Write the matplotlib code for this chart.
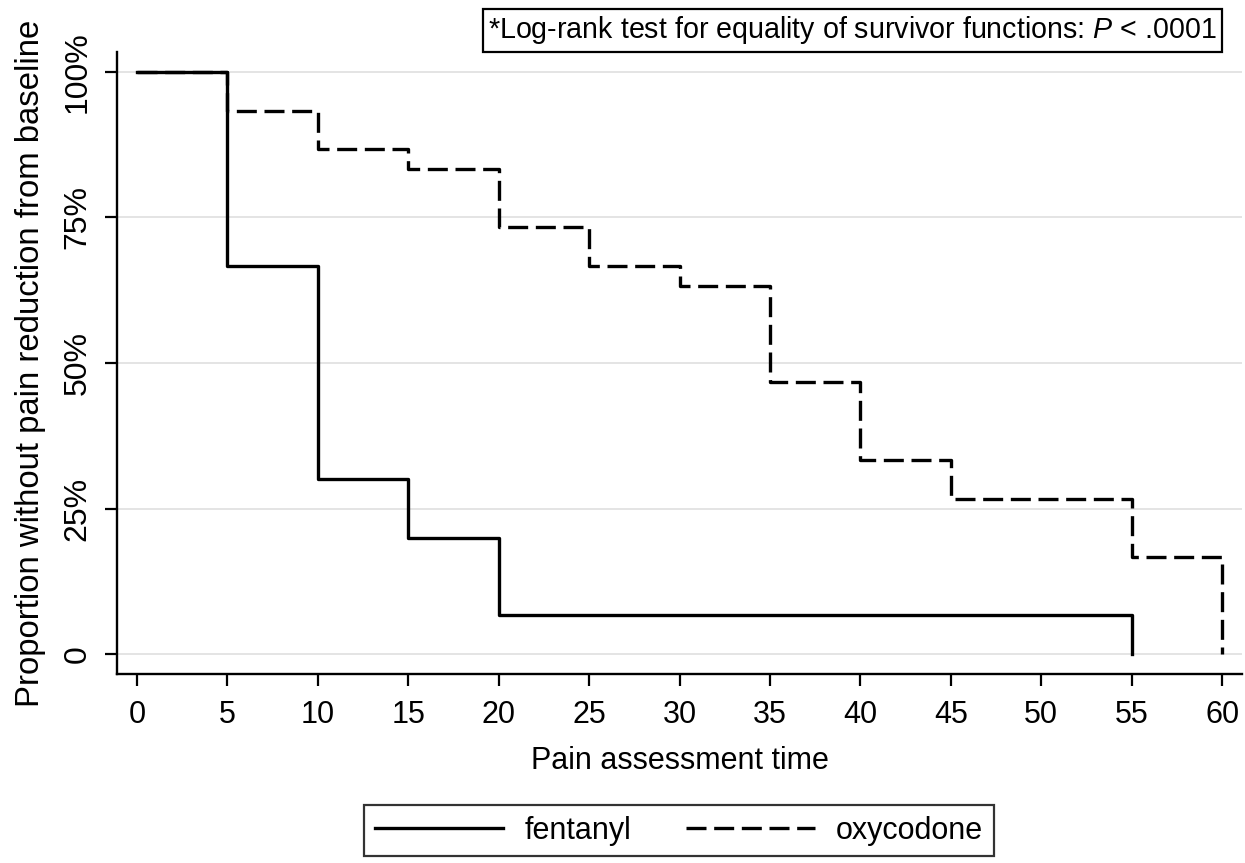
import matplotlib
matplotlib.use('Agg')
import matplotlib.pyplot as plt

plt.rcParams['font.family'] = ['Liberation Sans', 'DejaVu Sans']
plt.rcParams['mathtext.fontset'] = 'custom'
plt.rcParams['mathtext.rm'] = 'Liberation Sans'
plt.rcParams['mathtext.it'] = 'Liberation Sans:italic'

# Kaplan-Meier style step data (proportion without pain reduction)
fentanyl_times = [0, 5, 10, 15, 20, 55]
fentanyl_surv = [1.0, 0.667, 0.30, 0.20, 0.067, 0.0]

oxycodone_times = [0, 5, 10, 15, 20, 25, 30, 35, 40, 45, 55, 60]
oxycodone_surv = [1.0, 0.933, 0.867, 0.833, 0.733, 0.667, 0.633, 0.467, 0.333, 0.267, 0.167, 0.0]

x_ticks = [0, 5, 10, 15, 20, 25, 30, 35, 40, 45, 50, 55, 60]
y_ticks = [0, 0.25, 0.5, 0.75, 1.0]
y_tick_labels = ['0', '25%', '50%', '75%', '100%']

series_labels = ['fentanyl', 'oxycodone']
note_text = '*Log-rank test for equality of survivor functions: $P$ < .0001'


def main():
    fig = plt.figure(figsize=(12.45, 8.63), dpi=100)
    ax = fig.add_axes([0.094, 0.219, 0.9036, 0.7207])

    # gridlines
    for yv in y_ticks:
        ax.axhline(yv, color='#dcdcdc', linewidth=1.1, zorder=0)

    ax.step(oxycodone_times, oxycodone_surv, where='post', color='black',
            linewidth=2.4, linestyle=(0, (6.0, 2.3)), label=series_labels[1], zorder=2)
    ax.step(fentanyl_times, fentanyl_surv, where='post', color='black',
            linewidth=2.4, linestyle='-', label=series_labels[0], zorder=3)

    ax.set_xlim(-1.1, 61.1)
    ax.set_ylim(-0.034, 1.034)
    ax.set_xticks(x_ticks)
    ax.set_yticks(y_ticks)
    ax.set_yticklabels(y_tick_labels, rotation=90, va='center')

    for side in ['top', 'right']:
        ax.spines[side].set_visible(False)
    for side in ['left', 'bottom']:
        ax.spines[side].set_linewidth(1.7)

    ax.tick_params(axis='both', length=8.5, width=1.6)
    ax.tick_params(axis='x', labelsize=22, pad=10)
    ax.tick_params(axis='y', labelsize=23, pad=9)

    ax.set_xlabel('Pain assessment time', fontsize=22, labelpad=12)
    ax.set_ylabel('Proportion without pain reduction from baseline', fontsize=23.7, labelpad=12)

    fig.text(0.6847, 0.9647, note_text, ha='center', va='center', fontsize=20.6,
             bbox=dict(boxstyle='square,pad=0.18', facecolor='white', edgecolor='black', linewidth=1.6))

    handles, labels = ax.get_legend_handles_labels()
    order = [labels.index(s) for s in series_labels]
    leg = fig.legend([handles[i] for i in order], [labels[i] for i in order],
                     loc='upper center', bbox_to_anchor=(0.5454, 0.0672), ncol=2,
                     fontsize=22, frameon=True, fancybox=False, handlelength=4.2,
                     handletextpad=0.7, columnspacing=1.8, borderpad=0.35,
                     borderaxespad=0)
    leg.get_frame().set_edgecolor('black')
    leg.get_frame().set_linewidth(1.6)

    fig.savefig('out.png', dpi=100)


if __name__ == "__main__":
    main()
